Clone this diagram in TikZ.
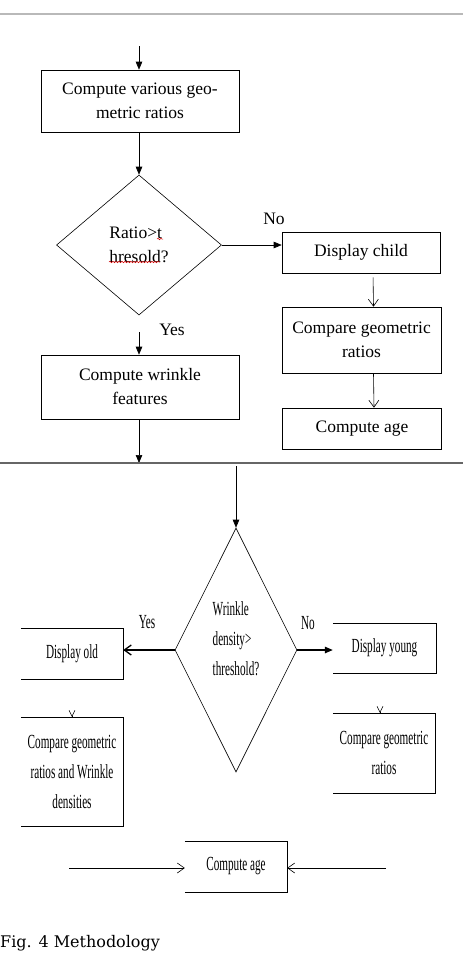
\documentclass[tikz,border=0pt]{standalone}
\usepackage{fontspec}
\setmainfont{Liberation Serif}
\newfontfamily\narrowfont[FakeStretch=0.56]{Liberation Serif}
\newfontfamily\capfont{DejaVu Serif}
\usetikzlibrary{shapes.geometric,arrows.meta,calc,decorations.pathmorphing}

\newcommand\topfont{\fontsize{17.5}{24}\selectfont}
\newcommand\lowfont{\narrowfont\fontsize{20}{30}\selectfont}
% open box: top, right and bottom sides only
\newcommand\opensides[1]{\draw[thin] (#1.north west) -- (#1.north east) -- (#1.south east) -- (#1.south west);}

\tikzset{
  box/.style={draw, line width=0.6pt, align=center, inner sep=0pt, font=\topfont},
  lowbox/.style={align=center, inner sep=0pt, font=\lowfont, minimum width=102pt},
  arr/.style={line width=0.6pt, -{Triangle[length=8pt,width=6.5pt]}},
  barb/.style={line width=0.6pt, -{Straight Barb[length=7pt,width=10pt]}},
  vmark/.style={line width=0.5pt, -{Straight Barb[length=6pt,width=6pt]}},
  lbl/.style={inner sep=0pt, font=\topfont},
  lowlbl/.style={inner sep=0pt, font=\lowfont},
  spell/.style={red!85!black, line width=0.5pt, decorate, decoration={snake, amplitude=0.8pt, segment length=3pt}}
}

\begin{document}
\begin{tikzpicture}[x=1pt, y=-1pt]
  \useasboundingbox (0,0) rectangle (463,954);
  \draw[gray!55, line width=1.5pt] (0,14) -- (463,14);

  % upper chart
  \coordinate (start) at (139,46);
  \node[box, minimum width=198pt, minimum height=62pt] (geo) at (140,101) {Compute various geo-\\metric ratios};
  \node[draw, diamond, line width=0.6pt, inner sep=0pt, aspect=1.2, minimum width=165pt, minimum height=140pt,
        align=left, font=\topfont] (ratio) at (139,245) {Ratio>t\\hresold?};
  \node[box, minimum width=158pt, minimum height=41pt] (child) at (361,252.5) {Display child};
  \node[box, minimum width=159pt, minimum height=66pt] (cmpchild) at (361.5,340) {Compare geometric\\ratios};
  \node[box, minimum width=159pt, minimum height=41pt] (agechild) at (362,428.5) {Compute age};
  \coordinate (yesstart) at (139,332);
  \node[box, minimum width=198pt, minimum height=64pt] (wrinkle) at (140,387) {Compute wrinkle\\features};
  \coordinate (sepend) at (139,463);

  % spell-check marks
  \draw[spell] ($(ratio)+(18,-6)$) -- ($(ratio)+(24,-6)$);
  \draw[spell] ($(ratio)+(-30,17)$) -- ($(ratio)+(21,17)$);

  \node[lbl] (no1) at (274,219) {No};
  \node[lbl] (yes1) at (172,330) {Yes};

  \draw[arr] (start) -- (start |- geo.north);
  \draw[arr] (geo.south -| ratio.north) -- (ratio.north);
  \draw[arr] (ratio.east) -- (ratio.east -| child.west);
  \draw[barb, shorten <=4pt] ([xshift=12pt]child.south) -- ([xshift=12pt]cmpchild.north);
  \draw[barb] ([xshift=12pt]cmpchild.south) -- ([xshift=12pt]agechild.north);
  \draw[arr] (yesstart) -- (yesstart |- wrinkle.north);
  \draw[arr] (wrinkle.south -| sepend) -- (sepend);

  \draw[gray!80!black, line width=1.2pt] (0,463) -- (463,463);

  % lower chart
  \coordinate (sepstart) at (236,466);
  \node[draw, diamond, line width=0.6pt, inner sep=0pt, aspect=0.5, minimum width=122pt, minimum height=244pt,
        label={[yshift=11pt, align=left, font=\lowfont]center:Wrinkle\\density>\\threshold?}] (dens) at (236,650) {};
  \node[lowbox, minimum height=51pt] (old) at (72,653.5) {Display old};
  \node[lowbox, minimum width=103pt, minimum height=50pt] (young) at (384.5,648) {Display young};
  \node[lowbox, minimum height=109pt] (cmpold) at (72,771.5) {Compare geometric\\ratios and Wrinkle\\densities};
  \node[lowbox, minimum height=80pt] (cmpyoung) at (384,753) {Compare geometric\\ratios};
  \node[lowbox, minimum height=51pt] (age) at (236,866.5) {Compute age};
  \opensides{old}
  \opensides{young}
  \opensides{cmpold}
  \opensides{cmpyoung}
  \opensides{age}
  \draw[line width=1.4pt] (age.south west) -- (age.south east);
  \coordinate (lin) at (69,868);
  \coordinate (rin) at (386,868);

  \node[lowlbl] (yes2) at (147,622) {Yes};
  \node[lowlbl] (no2) at (308,623) {No};

  \draw[arr] (sepstart) -- (dens.north);
  \draw[barb, line width=1.3pt] (dens.west) -- (dens.west -| old.east);
  \draw[arr, line width=1.3pt] (dens.east) -- (dens.east -| young.west);
  \draw[vmark] ([yshift=1pt]cmpold.north) -- (cmpold.north);
  \draw[vmark] ([xshift=-4pt, yshift=1pt]cmpyoung.north) -- ([xshift=-4pt]cmpyoung.north);
  \draw[barb] (lin) -- (lin -| age.west);
  \draw[barb] (rin) -- (rin -| age.east);

  \node[anchor=base west, inner sep=0pt, font=\capfont\fontsize{16}{19}\selectfont] (cap) at (0,947) {Fig. 4 Methodology};
\end{tikzpicture}
\end{document}
